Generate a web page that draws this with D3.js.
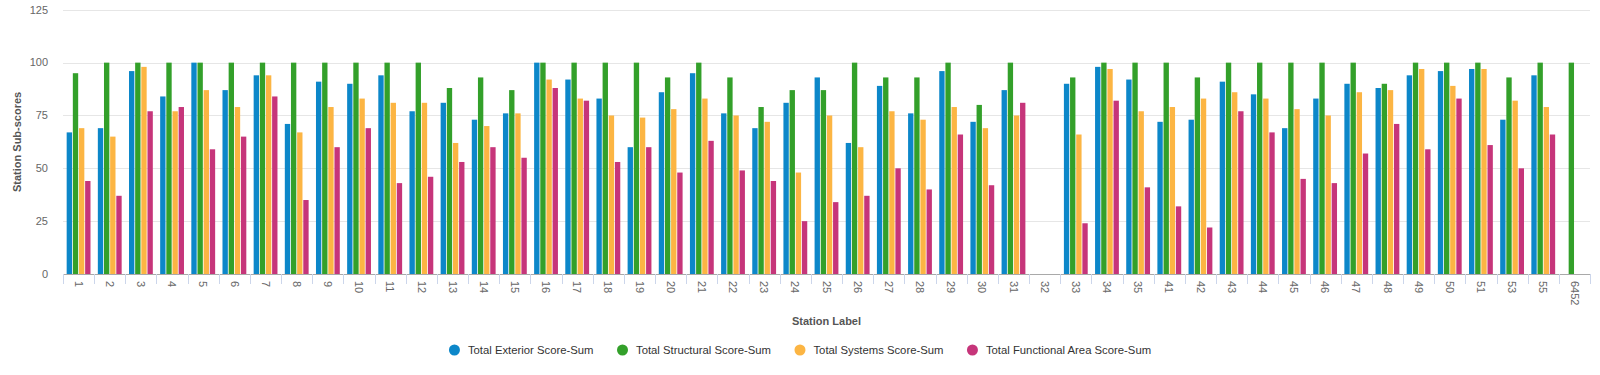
<!DOCTYPE html>
<html>
<head>
<meta charset="utf-8">
<script src="https://cdn.jsdelivr.net/npm/d3@7/dist/d3.min.js"></script>
<style>
  html, body { margin: 0; padding: 0; background: #fff; }
  svg { display: block; font-family: "Liberation Sans", Arial, Helvetica, sans-serif; }
</style>
</head>
<body>
<svg id="chart" width="1600" height="375"></svg>
<script>
const categories = ["1","2","3","4","5","6","7","8","9","10","11","12","13","14","15","16","17","18","19","20","21","22","23","24","25","26","27","28","29","30","31","32","33","34","35","41","42","43","44","45","46","47","48","49","50","51","53","55","6452"];

const exterior   = [67,69,96,84,100,87,94,71,91,90,94,77,81,73,76,100,92,83,60,86,95,76,69,81,93,62,89,76,96,72,87,null,90,98,92,72,73,91,85,69,83,90,88,94,96,97,73,94,null];
const structural = [95,100,100,100,100,100,100,100,100,100,100,100,88,93,87,100,100,100,100,93,100,93,79,87,87,100,93,93,100,80,100,null,93,100,100,100,93,100,100,100,100,100,90,100,100,100,93,100,100];
const systems    = [69,65,98,77,87,79,94,67,79,83,81,81,62,70,76,92,83,75,74,78,83,75,72,48,75,60,77,73,79,69,75,null,66,97,77,79,83,86,83,78,75,86,87,97,89,97,82,79,null];
const functional = [44,37,77,79,59,65,84,35,60,69,43,46,53,60,55,88,82,53,60,48,63,49,44,25,34,37,50,40,66,42,81,null,24,82,41,32,22,77,67,45,43,57,71,59,83,61,50,66,null];

const seriesNames = ["Total Exterior Score-Sum","Total Structural Score-Sum","Total Systems Score-Sum","Total Functional Area Score-Sum"];
const seriesColors = ["#0c87c9","#33a02a","#fcb543","#c6357a"];
const yTicks = [0,25,50,75,100,125];

const seriesData = [exterior, structural, systems, functional];

const svg = d3.select("#chart");
const pLeft = 63, pRight = 1590, pTop = 9.8, pBottom = 274;

const x = d3.scaleBand().domain(categories).range([pLeft, pRight]).padding(0);
const bw = x.bandwidth();
const gp = bw * 0.105;
const x1 = d3.scaleBand().domain(d3.range(4)).range([gp, bw - gp]).padding(0);
const y = d3.scaleLinear().domain([0,125]).range([pBottom, pTop]);

// gridlines
svg.append("g").selectAll("line").data(yTicks.filter(d => d > 0)).join("line")
  .attr("x1", pLeft).attr("x2", pRight)
  .attr("y1", d => Math.round(y(d)) + 0.5).attr("y2", d => Math.round(y(d)) + 0.5)
  .attr("stroke", "#e6e6e6").attr("stroke-width", 1);

// y labels
svg.append("g").selectAll("text").data(yTicks).join("text")
  .attr("x", 48).attr("y", d => y(d)).attr("dy", "0.35em")
  .attr("text-anchor", "end").attr("font-size", 11).attr("fill", "#666")
  .text(d => d);

// bars
const groups = svg.append("g").selectAll("g").data(categories).join("g")
  .attr("transform", d => `translate(${x(d)},0)`);
groups.selectAll("rect")
  .data((c, i) => seriesData.map((s, k) => ({k, v: s[i]})).filter(d => d.v != null))
  .join("rect")
  .attr("x", d => x1(d.k) + 0.4)
  .attr("width", x1.bandwidth() - 0.8)
  .attr("y", d => y(d.v))
  .attr("height", d => y(0) - y(d.v))
  .attr("fill", d => seriesColors[d.k]);

// x axis line & ticks
svg.append("line").attr("x1", pLeft).attr("x2", pRight)
  .attr("y1", pBottom + 0.5).attr("y2", pBottom + 0.5)
  .attr("stroke", "#a9a9a9").attr("stroke-width", 1);
const bounds = categories.map(c => x(c)).concat([pRight]);
svg.append("g").selectAll("line").data(bounds).join("line")
  .attr("x1", d => Math.round(d) + 0.5).attr("x2", d => Math.round(d) + 0.5)
  .attr("y1", pBottom).attr("y2", pBottom + 10)
  .attr("stroke", "#ccd6eb").attr("stroke-width", 1);

// x labels rotated
svg.append("g").selectAll("text").data(categories).join("text")
  .attr("transform", d => `translate(${x(d) + bw/2},${pBottom + 7}) rotate(90)`)
  .attr("dy", "0.35em").attr("text-anchor", "start")
  .attr("font-size", 11).attr("fill", "#666")
  .text(d => d);

// axis titles
svg.append("text").attr("x", (pLeft + pRight)/2).attr("y", 325)
  .attr("text-anchor", "middle").attr("font-size", 11).attr("font-weight", "bold")
  .attr("fill", "#555").text("Station Label");
svg.append("text").attr("transform", `translate(21,${(pTop + pBottom)/2}) rotate(-90)`)
  .attr("text-anchor", "middle").attr("font-size", 11).attr("font-weight", "bold")
  .attr("fill", "#555").text("Station Sub-scores");

// legend
const lg = svg.append("g");
let cx = 0;
seriesNames.forEach((n, i) => {
  const g = lg.append("g");
  g.append("circle").attr("cx", cx).attr("cy", 0).attr("r", 5.5).attr("fill", seriesColors[i]);
  const t = g.append("text").attr("x", cx + 13.5).attr("y", 0).attr("dy", "0.35em")
    .attr("font-size", 11.3).attr("fill", "#333").text(n);
  const w = t.node().getComputedTextLength();
  cx = cx + 13.5 + w + 29;
});
const bb = lg.node().getBBox();
lg.attr("transform", `translate(${800 - (bb.x + bb.width/2)},350)`);
</script>
</body>
</html>
